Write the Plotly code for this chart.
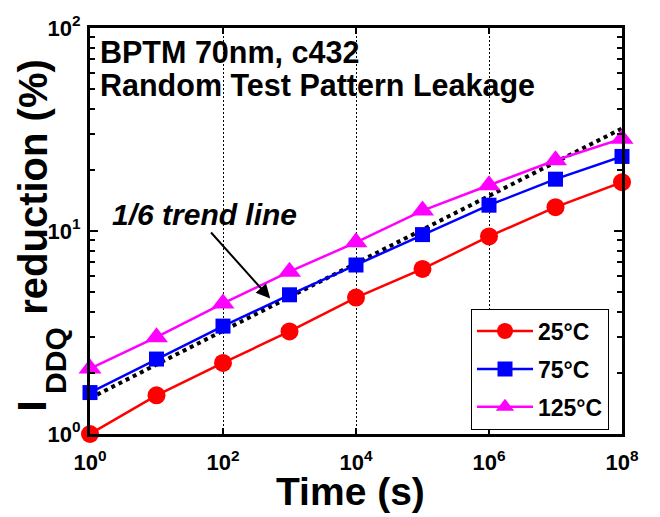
import plotly.graph_objects as go

# ---- data ----
time_s = [1, 1e1, 1e2, 1e3, 1e4, 1e5, 1e6, 1e7, 1e8]
red_25C = [1.0, 1.55, 2.24, 3.2, 4.7, 6.5, 9.4, 13.1, 17.4]
blue_75C = [1.6, 2.34, 3.4, 4.85, 6.8, 9.6, 13.4, 18.0, 23.3]
mag_125C = [2.1, 3.0, 4.4, 6.3, 8.8, 12.6, 16.8, 22.3, 28.5]
trend_x = [1, 1e8]
trend_y = [1.5, 32.0]

x_tickvals = [1, 1e2, 1e4, 1e6, 1e8]
x_ticktext = ["10<sup>0</sup>", "10<sup>2</sup>", "10<sup>4</sup>", "10<sup>6</sup>", "10<sup>8</sup>"]
y_tickvals = [1, 10, 100]
y_ticktext = ["10<sup>0</sup>", "10<sup>1</sup>", "10<sup>2</sup>"]
y_minor = [2, 3, 4, 5, 6, 7, 8, 9, 20, 30, 40, 50, 60, 70, 80, 90]

FONT = "Liberation Sans, Arial, sans-serif"

fig = go.Figure()

fig.add_trace(go.Scatter(
    x=trend_x, y=trend_y, mode="lines", showlegend=False,
    line=dict(color="black", width=4, dash="dot"), cliponaxis=False))

series = [
    ("25°C", red_25C, "#FF0000", "circle", 18),
    ("75°C", blue_75C, "#0000FF", "square", 15),
    ("125°C", mag_125C, "#FF00FF", "triangle-up", 20),
]
for i, (name, ys, col, sym, sz) in enumerate(series):
    fig.add_trace(go.Scatter(
        x=time_s, y=ys, mode="lines+markers", name=name,
        legendgroup=f"g{i}",
        line=dict(color=col, width=2.5),
        marker=dict(color=col, symbol=sym, size=sz, line=dict(width=0)),
        cliponaxis=False))

def px2paper_x(px):
    return (px - 90) / 532.0

def px2paper_y(py):
    return (434 - py) / 411.0

annotations = [
    dict(text="BPTM 70nm, c432", x=px2paper_x(98), y=px2paper_y(47),
         xanchor="left", yanchor="middle", font=dict(size=30.5)),
    dict(text="Random Test Pattern Leakage", x=px2paper_x(98), y=px2paper_y(81),
         xanchor="left", yanchor="middle", font=dict(size=30.5)),
    dict(text="<i>1/6 trend line</i>", x=px2paper_x(110), y=px2paper_y(212),
         xanchor="left", yanchor="middle", font=dict(size=30)),
    dict(text="Time (s)", x=px2paper_x(350), y=px2paper_y(492),
         xanchor="center", yanchor="middle", font=dict(size=39)),
    dict(text="I", x=px2paper_x(32.5), y=px2paper_y(406), textangle=-90,
         xanchor="center", yanchor="middle", font=dict(size=41)),
    dict(text="DDQ", x=px2paper_x(56), y=px2paper_y(360), textangle=-90,
         xanchor="center", yanchor="middle", font=dict(size=30)),
    dict(text="reduction (%)", x=px2paper_x(32.7), y=px2paper_y(184), textangle=-90,
         xanchor="center", yanchor="middle", font=dict(size=40)),
]
for a in annotations:
    a.update(xref="paper", yref="paper", showarrow=False)
    a["font"].update(family=FONT, color="black", weight="bold")

# arrow for trend line
annotations.append(dict(
    x=2.71, y=0.667, ax=1.80, ay=1.0, xref="x", yref="y", axref="x", ayref="y",
    text="", showarrow=True, arrowhead=2, arrowsize=1.4, arrowwidth=2, arrowcolor="black"))

fig.update_layout(
    width=660, height=517,
    margin=dict(l=90, r=38, t=23, b=83),
    paper_bgcolor="white", plot_bgcolor="white",
    font=dict(family=FONT, color="black", size=22, weight="bold"),
    annotations=annotations,
    legend=dict(
        x=px2paper_x(609), y=px2paper_y(307), xanchor="right", yanchor="top",
        bgcolor="white", bordercolor="black", borderwidth=1,
        font=dict(family=FONT, size=23, color="black", weight="bold"),
        traceorder="grouped", tracegroupgap=5, itemwidth=56),
)

fig.update_xaxes(
    type="log", range=[0, 8], tickmode="array", tickvals=x_tickvals, ticktext=x_ticktext,
    ticks="inside", ticklen=6, tickwidth=1.5, tickcolor="black",
    showline=True, linewidth=3, linecolor="black", mirror="ticks",
    showgrid=True, gridcolor="black", gridwidth=1.3, griddash="2px,2px",
    zeroline=False, tickfont=dict(family=FONT, size=22, color="black", weight="bold"),
    ticklabelstandoff=7)

fig.update_yaxes(
    type="log", range=[0, 2], tickmode="array", tickvals=y_tickvals, ticktext=y_ticktext,
    ticks="inside", ticklen=8, tickwidth=1.5, tickcolor="black",
    minor=dict(tickmode="array", tickvals=y_minor, ticks="inside", ticklen=5,
               tickwidth=1.5, tickcolor="black", showgrid=False),
    showline=True, linewidth=3, linecolor="black", mirror="ticks",
    showgrid=False, zeroline=False,
    tickfont=dict(family=FONT, size=22, color="black", weight="bold"),
    ticklabelstandoff=2)

fig.write_html("out.html")
